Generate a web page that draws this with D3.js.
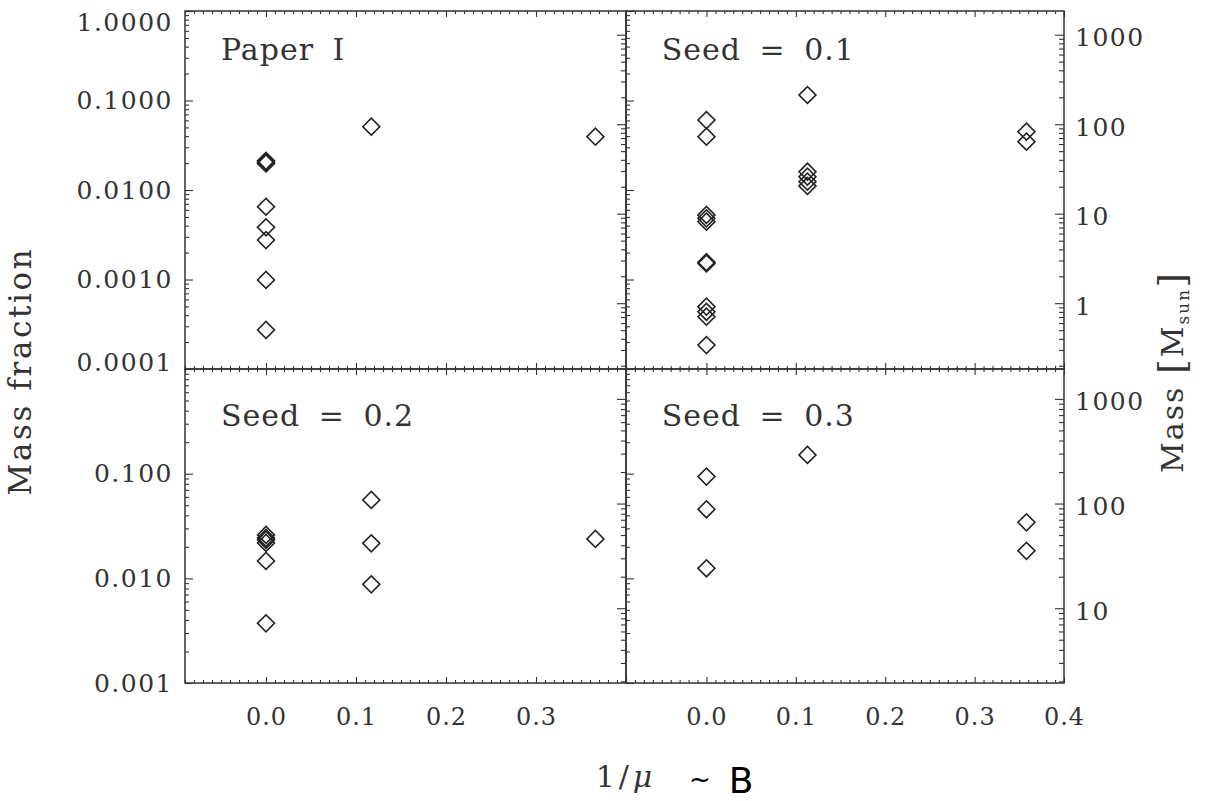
<!DOCTYPE html>
<html>
<head>
<meta charset="utf-8">
<script src="https://cdn.jsdelivr.net/npm/d3@7"></script>
<style>
  body { margin: 0; background: #fff; }
  svg { display: block; }
  text { font-family: "DejaVu Serif", "Liberation Serif", serif; fill: #333; }
</style>
</head>
<body>
<svg id="chart" width="1206" height="801"></svg>
<script>
// ---- data: 1/mu versus mass fraction of the sink particles ----
const panelNames = ["Paper I", "Seed = 0.1", "Seed = 0.2", "Seed = 0.3"];

const paperIX    = [0, 0, 0, 0, 0, 0, 0, 0, 0.117, 0.366];
const paperIFrac = [0.0198, 0.0205, 0.0212, 0.0065, 0.00383, 0.00276, 0.00099, 0.000273, 0.0510, 0.0394];

const seed1X    = [0, 0, 0, 0, 0, 0, 0, 0, 0, 0, 0, 0.113, 0.113, 0.113, 0.113, 0.113, 0.358, 0.358];
const seed1Frac = [0.0605, 0.0394, 0.00526, 0.00483, 0.00443, 0.00156, 0.00151, 0.000497, 0.000436,
                   0.000384, 0.000185, 0.1152, 0.0160, 0.0141, 0.0124, 0.0111, 0.0448, 0.0347];

const seed2X    = [0, 0, 0, 0, 0, 0, 0.117, 0.117, 0.117, 0.366];
const seed2Frac = [0.0260, 0.0243, 0.0233, 0.0218, 0.01466, 0.00372, 0.0561, 0.0216, 0.00877, 0.0238];

const seed3X    = [0, 0, 0, 0.113, 0.358, 0.358];
const seed3Frac = [0.0937, 0.0457, 0.01248, 0.151, 0.0343, 0.0183];

// axis ticks
const xDomain = [-0.09, 0.40];
const xMajor = [0.0, 0.1, 0.2, 0.3, 0.4];
const xLabelsLeft  = ["0.0", "0.1", "0.2", "0.3"];
const xLabelsRight = ["0.0", "0.1", "0.2", "0.3", "0.4"];

const fracDomainTop = [1e-4, 1];
const fracDomainBottom = [1e-3, 1];
const fracTicksTop = [1e-4, 1e-3, 1e-2, 1e-1, 1];
const fracLabelsTop = ["0.0001", "0.0010", "0.0100", "0.1000", "1.0000"];
const fracTicksBottom = [1e-3, 1e-2, 1e-1];
const fracLabelsBottom = ["0.001", "0.010", "0.100"];

// total mass (M_sun) linking the fraction axis to the mass axis
const totalMassTop = 1840;
const totalMassBottom = 1930;
const massTicksTop = [1, 10, 100, 1000];
const massTicksBottom = [10, 100, 1000];

// ---- layout ----
const svg = d3.select("#chart");
const colX = [[185, 626], [626, 1064]];
const rowY = [[11, 369], [369, 683]];
const ink = "#333";

const panels = [
  { name: panelNames[0], xs: paperIX, fs: paperIFrac, col: 0, row: 0 },
  { name: panelNames[1], xs: seed1X,  fs: seed1Frac,  col: 1, row: 0 },
  { name: panelNames[2], xs: seed2X,  fs: seed2Frac,  col: 0, row: 1 },
  { name: panelNames[3], xs: seed3X,  fs: seed3Frac,  col: 1, row: 1 }
];

function minorLog(domain) {
  const out = [];
  const lo = Math.floor(Math.log10(domain[0])), hi = Math.ceil(Math.log10(domain[1]));
  for (let e = lo; e <= hi; e++) {
    for (let m = 2; m <= 9; m++) {
      const v = m * Math.pow(10, e);
      if (v > domain[0] && v < domain[1]) out.push(v);
    }
  }
  return out;
}
const xMinor = d3.range(-9, 41).map(i => i / 100).filter(v => Math.abs(v * 10 - Math.round(v * 10)) > 1e-6);

function tickOnly(g, axis, values, size) {
  g.call(axis.tickValues(values).tickSize(size).tickFormat(""));
  g.select(".domain").remove();
  g.selectAll(".tick line").attr("stroke", ink).attr("stroke-width", 1.1);
}

panels.forEach(p => {
  const [x0, x1] = colX[p.col];
  const [y0, y1] = rowY[p.row];
  const fracDomain = p.row === 0 ? fracDomainTop : fracDomainBottom;
  const mTot = p.row === 0 ? totalMassTop : totalMassBottom;

  const x = d3.scaleLinear().domain(xDomain).range([x0, x1]);
  const y = d3.scaleLog().domain(fracDomain).range([y1, y0]);
  const yMass = d3.scaleLog().domain(fracDomain.map(f => f * mTot)).range([y1, y0]);

  const g = svg.append("g");

  // x ticks on top and bottom edges, pointing inward
  tickOnly(g.append("g").attr("transform", `translate(0,${y0})`), d3.axisBottom(x), xMajor, 6);
  tickOnly(g.append("g").attr("transform", `translate(0,${y0})`), d3.axisBottom(x), xMinor, 3);
  tickOnly(g.append("g").attr("transform", `translate(0,${y1})`), d3.axisTop(x), xMajor, 6);
  tickOnly(g.append("g").attr("transform", `translate(0,${y1})`), d3.axisTop(x), xMinor, 3);

  // mass fraction ticks on the left edge
  const fracMajor = p.row === 0 ? fracTicksTop : fracTicksBottom;
  tickOnly(g.append("g").attr("transform", `translate(${x0},0)`), d3.axisRight(y), fracMajor, 8);
  tickOnly(g.append("g").attr("transform", `translate(${x0},0)`), d3.axisRight(y), minorLog(fracDomain), 4);

  // mass ticks on the right edge
  const massMajor = p.row === 0 ? massTicksTop : massTicksBottom;
  tickOnly(g.append("g").attr("transform", `translate(${x1},0)`), d3.axisLeft(yMass), massMajor, 9);
  tickOnly(g.append("g").attr("transform", `translate(${x1},0)`), d3.axisLeft(yMass), minorLog(yMass.domain()), 5);

  // fraction labels on the outer left column
  if (p.col === 0) {
    const labels = p.row === 0 ? fracLabelsTop : fracLabelsBottom;
    const la = g.append("g").attr("transform", `translate(${x0},0)`)
      .call(d3.axisLeft(y).tickValues(fracMajor).tickSize(0).tickPadding(12)
        .tickFormat((d, i) => labels[i]));
    la.select(".domain").remove();
    la.selectAll("text")
      .attr("font-family", "DejaVu Serif").attr("font-size", 25)
      .attr("letter-spacing", 1.5).attr("fill", ink)
      .attr("y", d => {
        if (p.row === 0 && d === fracDomain[1]) return 11;
        if (p.row === 0 && d === fracDomain[0]) return -7;
        return 0;
      });
  }

  // mass labels on the outer right column
  if (p.col === 1) {
    const ra = g.append("g").attr("transform", `translate(${x1},0)`)
      .call(d3.axisRight(yMass).tickValues(massMajor).tickSize(0).tickPadding(11)
        .tickFormat(d3.format("d")));
    ra.select(".domain").remove();
    ra.selectAll("text")
      .attr("font-family", "DejaVu Serif").attr("font-size", 25)
      .attr("letter-spacing", 1.5).attr("fill", ink).attr("y", 3);
  }

  // 1/mu labels under the bottom row
  if (p.row === 1) {
    const xl = p.col === 0 ? xLabelsLeft : xLabelsRight;
    const ba = g.append("g").attr("transform", `translate(0,${y1})`)
      .call(d3.axisBottom(x).tickValues(xMajor.slice(0, xl.length)).tickSize(0).tickPadding(25)
        .tickFormat((d, i) => xl[i]));
    ba.select(".domain").remove();
    ba.selectAll("text")
      .attr("font-family", "DejaVu Serif").attr("font-size", 24)
      .attr("letter-spacing", 1).attr("fill", ink);
  }

  // panel frame
  g.append("rect")
    .attr("x", x0).attr("y", y0).attr("width", x1 - x0).attr("height", y1 - y0)
    .attr("fill", "none").attr("stroke", ink).attr("stroke-width", 1.5);

  // diamonds
  const diamond = d3.symbol().type(d3.symbolSquare).size(144);
  g.append("g").selectAll("path")
    .data(p.xs.map((v, i) => [v, p.fs[i]]))
    .join("path")
    .attr("d", diamond)
    .attr("transform", d => `translate(${x(d[0])},${y(d[1])}) rotate(45)`)
    .attr("fill", "none").attr("stroke", "#222").attr("stroke-width", 1.6);

  // panel name, placed in data coordinates
  g.append("text")
    .attr("x", x(-0.05)).attr("y", y(0.285))
    .attr("font-size", 30).attr("letter-spacing", 1).attr("word-spacing", 8)
    .attr("fill", ink)
    .text(p.name);
});

// ---- axis titles ----
svg.append("text")
  .attr("transform", "translate(31,371) rotate(-90)")
  .attr("text-anchor", "middle")
  .attr("font-size", 31).attr("letter-spacing", 2.6)
  .text("Mass fraction");

const rt = svg.append("text")
  .attr("transform", "translate(1183,372) rotate(-90)")
  .attr("text-anchor", "middle")
  .attr("font-size", 30).attr("letter-spacing", 2);
rt.append("tspan").text("Mass ");
rt.append("tspan").attr("font-size", 38).attr("dy", 2).text("[");
rt.append("tspan").attr("dy", -2).text("M");
rt.append("tspan").attr("font-size", 17).attr("dy", 6).text("sun");
rt.append("tspan").attr("font-size", 38).attr("dy", -4).text("]");

const xt = svg.append("text")
  .attr("x", 626).attr("y", 787)
  .attr("text-anchor", "middle")
  .attr("font-size", 30).attr("letter-spacing", 4);
xt.append("tspan").text("1/");
xt.append("tspan").attr("font-style", "italic").text("μ");

const bt = svg.append("text")
  .attr("x", 689).attr("y", 793)
  .attr("font-family", "DejaVu Sans")
  .style("font-family", "'DejaVu Sans', sans-serif")
  .attr("fill", "#000").style("fill", "#000");
bt.append("tspan").attr("font-size", 26).attr("dy", -5).text("~");
bt.append("tspan").attr("font-size", 36).attr("dx", 18).attr("dy", 5).text("B");
</script>
</body>
</html>
